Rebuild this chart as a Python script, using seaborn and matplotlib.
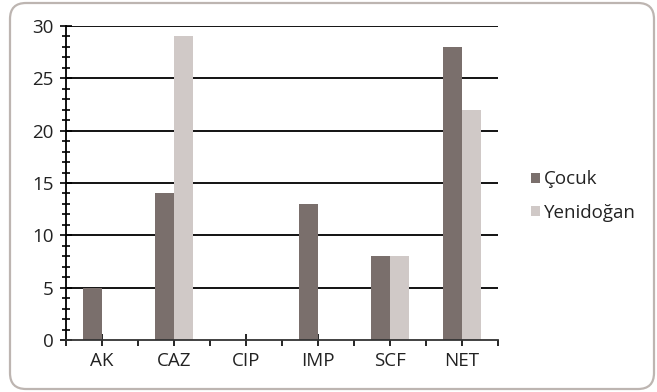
import matplotlib
matplotlib.use("Agg")
import matplotlib.pyplot as plt
import seaborn as sns
import pandas as pd
from matplotlib.patches import FancyBboxPatch, Patch
from matplotlib.ticker import MultipleLocator, FixedLocator

categories = ["AK", "CAZ", "CIP", "IMP", "SCF", "NET"]
cocuk = [5, 14, 0, 13, 8, 28]
yenidogan = [0, 29, 0, 0, 8, 22]
series_names = ["Çocuk", "Yenidoğan"]
colors = ["#7a6f6c", "#d0c9c7"]

df = pd.DataFrame({
    "cat": categories * 2,
    "val": cocuk + yenidogan,
    "series": [series_names[0]] * len(categories) + [series_names[1]] * len(categories),
})

sns.set_theme(style="white")
plt.rcParams["font.family"] = ["Open Sans", "DejaVu Sans"]

fig = plt.figure(figsize=(6.57, 3.92), dpi=100)
ax = fig.add_axes([66 / 657, (392 - 340) / 392, 432 / 657, 314 / 392])

sns.barplot(data=df, x="cat", y="val", hue="series", palette=colors,
            width=0.53, ax=ax, legend=False, saturation=1, zorder=3,
            linewidth=0, edgecolor="none")

ax.set_xlim(-0.5, len(categories) - 0.5)
ax.set_ylim(0, 30)
ax.set_xlabel("")
ax.set_ylabel("")

ax.yaxis.set_major_locator(MultipleLocator(5))
ax.yaxis.set_minor_locator(MultipleLocator(1))
ax.xaxis.set_minor_locator(FixedLocator([i + 0.5 for i in range(-1, len(categories))]))

for y in range(5, 31, 5):
    ax.axhline(y, color="black", lw=1.3, zorder=1)

fs = 13.5
ax.tick_params(axis="y", which="major", direction="inout", length=8, width=1.2,
               color="black", labelsize=fs, pad=5, labelcolor="#222222", left=True)
ax.tick_params(axis="y", which="minor", direction="inout", length=6, width=1.2,
               color="black", left=True)
ax.tick_params(axis="x", which="major", direction="inout", length=8, width=1.2,
               color="black", labelsize=fs, pad=5, labelcolor="#222222", bottom=True)
ax.tick_params(axis="x", which="minor", direction="out", length=4, width=1.2,
               color="black", bottom=True)

for s in ["top", "right"]:
    ax.spines[s].set_visible(False)
ax.spines["left"].set_color("black")
ax.spines["left"].set_linewidth(1.3)
ax.spines["bottom"].set_color("#333333")
ax.spines["bottom"].set_linewidth(1.3)
ax.spines["left"].set_zorder(4)
ax.spines["bottom"].set_zorder(4)

handles = [Patch(facecolor=c, edgecolor="none", label=n) for c, n in zip(colors, series_names)]
fig.legend(handles=handles, loc="center left", bbox_to_anchor=(531 / 657, (392 - 196) / 392),
           frameon=False, fontsize=fs, handlelength=0.5, handleheight=0.5,
           handletextpad=0.2, labelspacing=0.8, borderpad=0, borderaxespad=0,
           labelcolor="#222222")

border = FancyBboxPatch((0.10, 0.03), 6.44, 3.86, boxstyle="round,pad=0,rounding_size=0.16",
                        transform=fig.dpi_scale_trans, facecolor="none",
                        edgecolor="#bdb5b1", lw=1.6, zorder=0)
fig.patches.append(border)

fig.savefig("out.png", dpi=100)
